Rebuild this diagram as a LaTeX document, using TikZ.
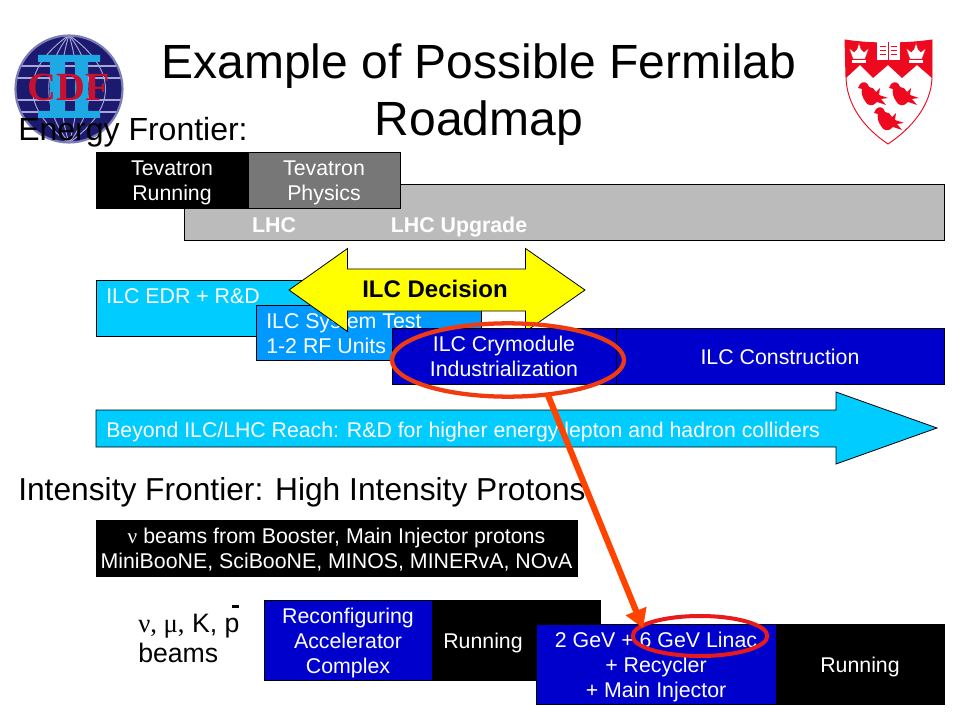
\documentclass[tikz,border=0pt]{standalone}
\usepackage{fontspec}
\setmainfont{Liberation Sans}
\newfontfamily\serifgr{Liberation Serif}
\usetikzlibrary{shapes.geometric,arrows.meta}
\definecolor{ilccyan}{HTML}{00CCFF}
\definecolor{ilcmid}{HTML}{0099FF}
\definecolor{ilcblue}{HTML}{0000CC}
\definecolor{lhcgray}{HTML}{BBBBBB}
\definecolor{tevgray}{HTML}{777777}
\definecolor{decisionyellow}{HTML}{FFFF00}
\definecolor{ringorange}{HTML}{F03A10}
\definecolor{ringred}{HTML}{E81A1A}
\definecolor{arroworange}{HTML}{FF4400}
\definecolor{cdfnavy}{HTML}{1C1A6E}
\definecolor{cdfline}{HTML}{A8A8D8}
\definecolor{cdfcyan}{HTML}{1EA8E4}
\definecolor{cdfred}{HTML}{C81030}
\definecolor{mcred}{HTML}{EE0A1E}
\tikzset{
  x=0.75pt,y=-0.75pt,
  bar/.style={draw=black,line width=0.6pt,fill=#1,text=white,inner sep=0pt,outer sep=0pt,align=center,
    font=\fontsize{16}{18.75}\selectfont},
  bartext/.style={text=white,inner sep=0pt,align=left,font=\fontsize{16}{18.75}\selectfont},
  heading/.style={text=black,inner sep=0pt,anchor=base west,font=\fontsize{24}{28}\selectfont},
  ring/.style={ellipse,draw=#1,inner sep=0pt,outer sep=0pt},
  outlined/.style={draw=black,line width=0.6pt,fill=#1},
}
\newcommand{\up}[1][16]{\rule{0pt}{#1pt}}
\newcommand{\boxat}[6]{% name, x1,y1,x2,y2, colour
  \node[bar=#6,minimum width={(#4-#2)*0.75pt},minimum height={(#5-#3)*0.75pt},anchor=north west] (#1) at (#2,#3)}
\newcommand{\mcbird}[2]{%
  \fill[mcred,shift={(#1,#2)}] (-12,-11) .. controls (-9,-14) and (-4,-13) .. (-3,-8)
    .. controls (0,-8) and (3,-6) .. (4,-3) -- (8,-7) -- (7,0) -- (16,3) -- (9,4) -- (14,10) -- (5,7)
    .. controls (1,12) and (-5,11) .. (-7,6) .. controls (-10,2) and (-11,-3) .. (-10,-6) -- (-14,-7) -- cycle;}
\newcommand{\mccrown}[2]{%
  \fill[white,draw=mcred,line width=0.3pt,shift={(#1,#2)}] (-10,-6) -- (-5,-2) -- (-2,-5) -- (0,-11) -- (2,-5) -- (5,-2) -- (10,-6)
    -- (6,5) -- (-6,5) -- cycle;
  \fill[white,shift={(#1,#2)}] (-7,6) rectangle (7,9);}
\begin{document}
\begin{tikzpicture}
\useasboundingbox (0,0) rectangle (960,720);
\fill[white] (0,0) rectangle (960,720);

% CDF logo
\begin{scope}
  \clip (69,89) circle [radius=54];
  \fill[cdfnavy] (69,89) circle [radius=54];
  \foreach \yy in {66,78,100,112} \draw[cdfline,line width=0.8pt] (14,\yy) -- (124,\yy);
  \foreach \xx in {-36,-20,-8,8,20,36}
    \draw[cdfline,line width=0.7pt] (69,35) .. controls ({69+\xx*1.35},70) and ({69+\xx*1.35},108) .. (69,143);
\end{scope}
\draw[cdfline!70!cdfnavy,line width=1.6pt] (69,89) circle [radius=53.5];
\fill[cdfcyan] (38,55) rectangle (100,62) (38,111) rectangle (100,118)
  (50,60) rectangle (65,113) (75,60) rectangle (88,113);
\node[text=cdfred,inner sep=0pt,font=\serifgr\bfseries\fontsize{30}{32}\selectfont] (cdf) at (69,87) {CDF};

% McGill shield
\path[fill=white,draw=mcred,line width=0.7pt] (845,40) .. controls (870,44) and (905,44) .. (932,40)
  -- (932,78) .. controls (931,105) and (912,128) .. (888,144) .. controls (864,128) and (847,105) .. (846,78) -- cycle;
\fill[mcred] (845,40) .. controls (870,44) and (905,44) .. (932,40) -- (932,78) -- (917,65) -- (902,78) -- (888,65)
  -- (873,78) -- (860,65) -- (846,78) -- cycle;
\fill[white] (877,42) rectangle (900,60);
\draw[mcred,line width=0.5pt] (888.5,42) -- (888.5,60);
\foreach \yy in {46,50,54} \draw[mcred,line width=0.6pt] (880,\yy) -- (886,\yy) (891,\yy) -- (897,\yy);
\mccrown{859}{54}
\mccrown{916}{54}
\mcbird{872}{95}
\mcbird{903}{95}
\mcbird{888}{120}

% Title and headings
\node[inner sep=0pt,align=center,font=\fontsize{36}{43}\selectfont] (title) at (479,94.5) {Example of Possible Fermilab\\Roadmap};
\node[heading] (energy) at (18,141) {Energy Frontier:};

% Energy frontier bars
\boxat{lhc}{184}{184}{944}{240}{lhcgray} {};
\node[bartext,anchor=base,font=\bfseries\fontsize{16}{18.75}\selectfont] (lhclabel) at (274,233) {LHC};
\node[bartext,anchor=base,font=\bfseries\fontsize{16}{18.75}\selectfont] (lhcup) at (459,233) {LHC Upgrade};
\boxat{tevrun}{96}{152}{248}{208}{black} {\up Tevatron\\Running};
\boxat{tevphys}{248}{152}{400}{208}{tevgray} {\up Tevatron\\Physics};

\boxat{edr}{96}{280}{320}{336}{ilccyan} {};
\node[bartext,anchor=base west] (edrlabel) at (106,303) {ILC EDR + R\&D};
\boxat{systest}{256}{305}{481}{360}{ilcmid} {};
\node[bartext,anchor=west] (syslabel) at (266,334) {ILC System Test\\1-2 RF Units};

% ILC Decision double arrow
\path[outlined=decisionyellow] (289,290) -- (347.5,248.5) -- (347.5,269) -- (525.5,269) -- (525.5,248.5) -- (585,290)
  -- (525.5,331.5) -- (525.5,311) -- (347.5,311) -- (347.5,331.5) -- cycle;
\node[inner sep=0pt,font=\bfseries\fontsize{18}{20}\selectfont] (decision) at (435,288.5) {ILC Decision};

\boxat{crym}{392}{328}{616}{384}{ilcblue} {ILC Crymodule\\Industrialization};
\boxat{constr}{616}{328}{944}{384}{ilcblue} {\up[13]ILC Construction};

% Beyond arrow
\path[outlined=ilccyan] (96,410) -- (836,410) -- (836,392) -- (937,428) -- (836,464) -- (836,447) -- (96,447) -- cycle;
\node[bartext,anchor=west,font=\fontsize{15.95}{18.75}\selectfont] (beyond) at (106,432) {Beyond ILC/LHC Reach: R\&D for higher energy lepton and hadron colliders};

% Intensity frontier
\node[heading,font=\fontsize{23.8}{28}\selectfont] (intensity) at (18,500) {Intensity Frontier: High Intensity Protons};
\boxat{booster}{96}{520}{577}{576}{black} {\up[14.5]{\serifgr\fontsize{16}{18.75}\selectfont ν} beams from Booster, Main Injector protons\\MiniBooNE, SciBooNE, MINOS, MINERvA, NOvA};

\node[inner sep=0pt,anchor=base west,font=\fontsize{20}{22}\selectfont] (beams1) at (138,632) {{\serifgr ν, μ,} K, p};
\node[inner sep=0pt,anchor=base west,font=\fontsize{20}{22}\selectfont] (beams2) at (138,662) {beams};
\fill[black] (232,605) rectangle (239,608);

\boxat{reconf}{264}{600}{432}{680}{ilcblue} {\up Reconfiguring\\Accelerator\\Complex};
\boxat{runa}{432}{600}{600}{680}{black} {};
\node[bartext,anchor=base] (runalabel) at (483,648) {Running};
\boxat{linac}{536}{624}{776}{704}{ilcblue} {\up 2 GeV + 6 GeV Linac\\+ Recycler\\+ Main Injector};
\boxat{runb}{776}{624}{944}{704}{black} {\up Running};

% Highlight rings and connector
\node[ring=ringorange,line width=3.2pt,minimum width=174pt,minimum height=55pt] (ringa) at (508,360) {};
\node[ring=ringred,line width=3pt,minimum width=101pt,minimum height=30pt] (ringb) at (700,636) {};
\draw[arroworange,line width=4.6pt,shorten >=-2pt,-{Triangle[length=14pt,width=16pt]}] (ringa.-41) -- (ringb.170);
\end{tikzpicture}
\end{document}
